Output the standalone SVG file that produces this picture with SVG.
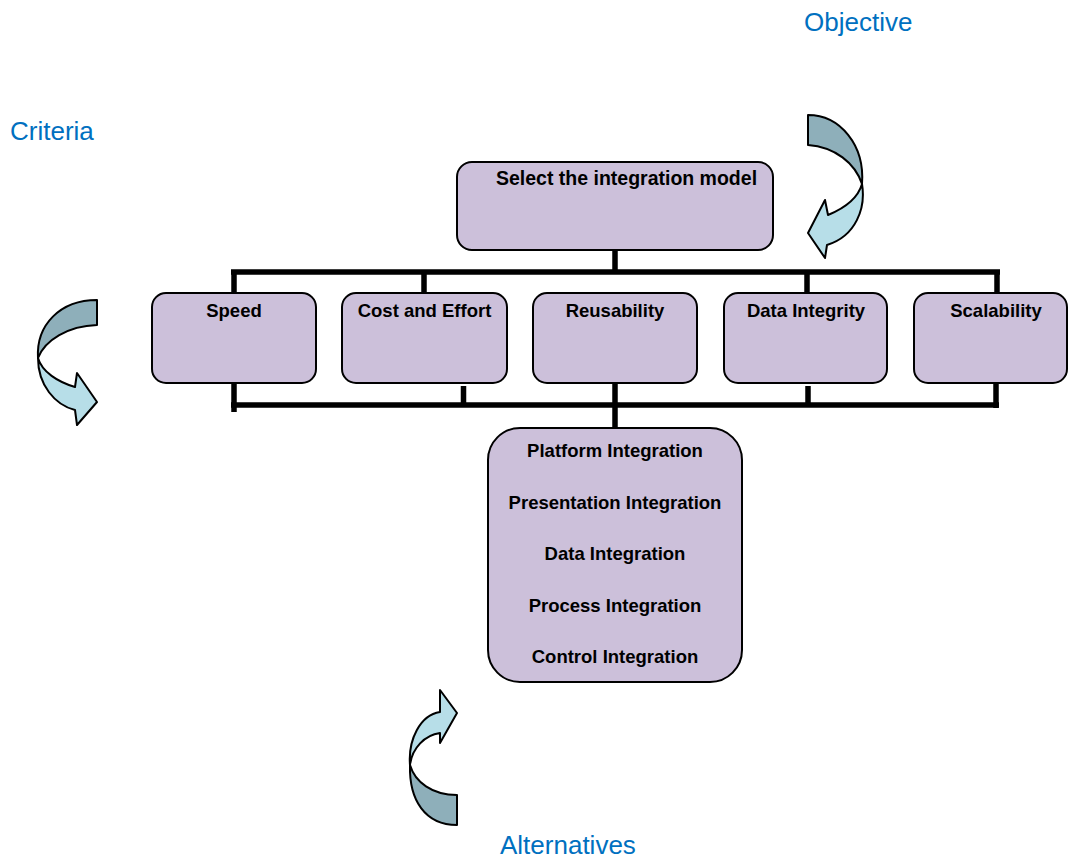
<svg xmlns="http://www.w3.org/2000/svg" width="1069" height="859" viewBox="0 0 1069 859">
  <style>
    .box { fill: #CCC0DA; stroke: #000; stroke-width: 2; }
    .lbl { font-family: "Liberation Sans", Arial, sans-serif; font-weight: bold; font-size: 18.5px; fill: #000; text-anchor: middle; }
    .ttl { font-family: "Liberation Sans", Arial, sans-serif; font-weight: bold; font-size: 19.5px; fill: #000; text-anchor: middle; }
    .cap { font-family: "Liberation Sans", Arial, sans-serif; font-size: 26px; fill: #0070C0; }
    .wire { stroke: #000; stroke-width: 5.5; fill: none; stroke-linecap: butt; }
    .back { fill: #8EAFBA; stroke: #000; stroke-width: 2; stroke-linejoin: round; }
    .front { fill: #B7DEE8; stroke: #000; stroke-width: 2; stroke-linejoin: round; }
  </style>

  <!-- captions -->
  <text class="cap" x="804" y="31">Objective</text>
  <text class="cap" x="10" y="140">Criteria</text>
  <text class="cap" x="500" y="854">Alternatives</text>

  <!-- curved arrows -->
  <g id="arrow-objective">
    <path class="back" d="M808,115 C840,115 865,145 862,184 C855,163 835,147 808,145 Z"/>
    <path class="front" d="M862,184 C866,208 856,236 827,245 L825,258 L808,233 L825,200 L828,215 C845,208 858,198 862,184 Z"/>
  </g>
  <g id="arrow-criteria">
    <path class="back" d="M97,300 C60,300 36,325 38,358 C45,340 68,326 97,325 Z"/>
    <path class="front" d="M38,358 C38,385 55,405 75,410 L77,425 L97,402 L77,373 L75,387 C58,382 42,372 38,358 Z"/>
  </g>
  <g id="arrow-alternatives">
    <path class="back" d="M457,825 C425,825 409,800 410,765 C415,782 432,795 457,795 Z"/>
    <path class="front" d="M410,765 C408,740 420,715 440,712 L440,690 L457,713 L440,743 L440,733 C425,735 412,748 410,765 Z"/>
  </g>

  <!-- connectors -->
  <g id="connectors">
    <path class="wire" d="M615,249 V272 M231,272 H1000 M234,272 V293 M424,272 V293 M807,272 V293 M997,272 V293"/>
    <path class="wire" d="M231,405 H999 M234,382 V412 M463.5,386 V405 M808,386 V405 M996,384 V408 M615,383 V430"/>
  </g>

  <!-- objective -->
  <g id="node-goal">
    <rect class="box" x="457" y="162" width="316" height="88" rx="15"/>
    <text class="ttl" x="626.5" y="185">Select the integration model</text>
  </g>

  <!-- criteria -->
  <g id="node-speed">
    <rect class="box" x="152" y="293" width="164" height="90" rx="14"/>
    <text class="lbl" x="234" y="317">Speed</text>
  </g>
  <g id="node-cost">
    <rect class="box" x="342" y="293" width="165" height="90" rx="14"/>
    <text class="lbl" x="424.5" y="317">Cost and Effort</text>
  </g>
  <g id="node-reuse">
    <rect class="box" x="533" y="293" width="164" height="90" rx="14"/>
    <text class="lbl" x="615" y="317">Reusability</text>
  </g>
  <g id="node-integrity">
    <rect class="box" x="724" y="293" width="163" height="90" rx="14"/>
    <text class="lbl" x="806" y="317">Data Integrity</text>
  </g>
  <g id="node-scale">
    <rect class="box" x="914" y="293" width="153" height="90" rx="14"/>
    <text class="lbl" x="996" y="317">Scalability</text>
  </g>

  <!-- alternatives -->
  <g id="node-options">
    <rect class="box" x="488" y="428" width="254" height="254" rx="32"/>
    <text class="lbl" x="615" y="457">Platform Integration</text>
    <text class="lbl" x="615" y="509">Presentation Integration</text>
    <text class="lbl" x="615" y="560">Data Integration</text>
    <text class="lbl" x="615" y="612">Process Integration</text>
    <text class="lbl" x="615" y="663">Control Integration</text>
  </g>
</svg>
